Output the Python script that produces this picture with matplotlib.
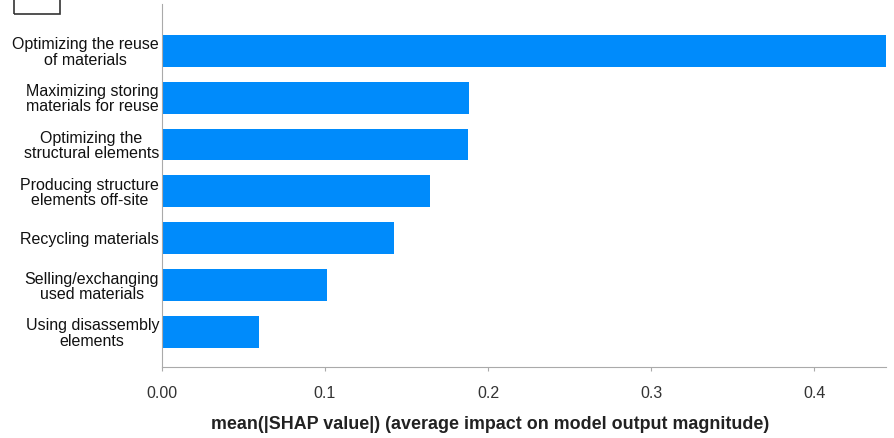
import matplotlib.pyplot as plt
from matplotlib.patches import Rectangle

plt.rcParams['font.family'] = ['Liberation Sans', 'DejaVu Sans']

# features ordered top to bottom, with mean |SHAP| values
features = [
    'Optimizing the reuse\nof materials',
    'Maximizing storing\nmaterials for reuse',
    'Optimizing the\nstructural elements',
    'Producing structure\nelements off-site',
    'Recycling materials',
    'Selling/exchanging\nused materials',
    'Using disassembly\nelements',
]
mean_shap = [0.444, 0.1885, 0.188, 0.1645, 0.1425, 0.101, 0.0595]
xticks = [0.0, 0.1, 0.2, 0.3, 0.4]
xticklabels = ['0.00', '0.1', '0.2', '0.3', '0.4']

fig = plt.figure(figsize=(8.94, 4.38), dpi=100)
ax = fig.add_axes([0.181, 0.162, 0.810, 0.829])

n = len(features)
ypos = list(range(n - 1, -1, -1))
ax.barh(ypos, mean_shap, height=0.68, color='#008bfb', align='center')

ax.set_yticks(ypos)
ax.set_yticklabels(features, fontsize=11.5, ha='right', multialignment='center',
                   linespacing=1.02, color='#111111')
ax.tick_params(axis='y', length=0, pad=2)

ax.set_xticks(xticks)
ax.set_xticklabels(xticklabels, fontsize=11.5, color='#333333')
ax.tick_params(axis='x', length=3, color='#aaaaaa', pad=11)

ax.set_xlim(0, 0.444)
ax.set_ylim(-0.75, n - 1 + 1.0)

ax.spines['top'].set_visible(False)
ax.spines['right'].set_visible(False)
ax.spines['left'].set_color('#aaaaaa')
ax.spines['bottom'].set_color('#aaaaaa')

ax.set_xlabel('mean(|SHAP value|) (average impact on model output magnitude)',
              fontsize=12.9, fontweight='bold', color='#222222')
ax.xaxis.set_label_coords(0.453, -0.135)

# panel label box in the corner
fig.patches.append(Rectangle((14 / 894, 1 - 14 / 438), 46 / 894, 16 / 438,
                             transform=fig.transFigure, fill=False,
                             edgecolor='#333333', linewidth=1.2))

fig.savefig('out.png', dpi=100, facecolor='white')
